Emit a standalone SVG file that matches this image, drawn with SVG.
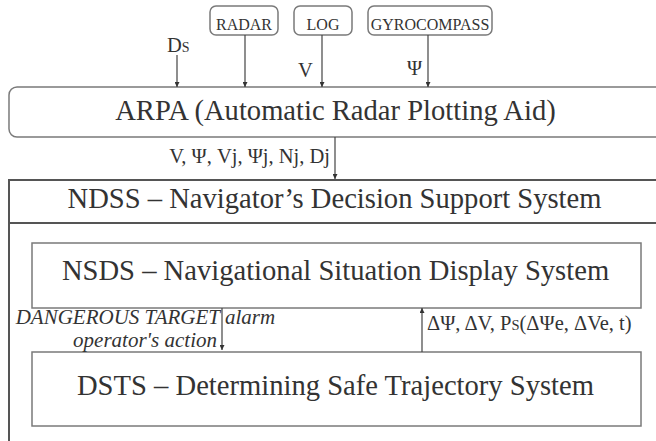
<svg xmlns="http://www.w3.org/2000/svg" width="656" height="441" viewBox="0 0 656 441">
<defs>
<marker id="ah" viewBox="0 0 10 10" refX="10" refY="5" markerWidth="5" markerHeight="5" orient="auto" markerUnits="userSpaceOnUse">
<path d="M0,0 L10,5 L0,10 z" fill="#333"/>
</marker>
<style>
text{font-family:'Liberation Serif','Times New Roman',serif;fill:#333}
.box{fill:#fff;stroke:#7a7a7a;stroke-width:1.5}
.frame{fill:none;stroke:#555;stroke-width:2}
.src{font-size:16px}
.big{font-size:28.6px}
.lab{font-size:20.5px}
.it{font-size:21px;font-style:italic}
.con{stroke:#444;stroke-width:1.2;fill:none;marker-end:url(#ah)}
</style>
</defs>
<rect width="656" height="441" fill="#fff"/>
<g id="radar"><rect class="box" x="210" y="6" width="68" height="29" rx="6"/><text class="src" x="244" y="30" text-anchor="middle">RADAR</text></g>
<g id="log"><rect class="box" x="294" y="6" width="58" height="29" rx="6"/><text class="src" x="323" y="30" text-anchor="middle">LOG</text></g>
<g id="gyrocompass"><rect class="box" x="368" y="6" width="124" height="29" rx="6"/><text class="src" x="430" y="30" text-anchor="middle">GYROCOMPASS</text></g>
<g id="arpa"><rect class="box" x="9" y="87" width="660" height="50" rx="8"/><text class="big" x="335.5" y="120" text-anchor="middle">ARPA (Automatic Radar Plotting Aid)</text></g>
<g id="ndss"><path class="frame" d="M656,180 H9 V441 M9,223 H656"/><text class="big" x="334.5" y="208" text-anchor="middle">NDSS – Navigator’s Decision Support System</text></g>
<g id="nsds"><rect class="box" x="32" y="243" width="609" height="65"/><text class="big" x="335.5" y="280" text-anchor="middle">NSDS – Navigational Situation Display System</text></g>
<g id="dsts"><rect class="box" x="32" y="352" width="609" height="74"/><text class="big" x="335.5" y="395" text-anchor="middle">DSTS – Determining Safe Trajectory System</text></g>
<g id="connectors">
<line class="con" x1="177" y1="55" x2="177" y2="87"/>
<line class="con" x1="245" y1="35" x2="245" y2="87"/>
<line class="con" x1="322" y1="35" x2="322" y2="87"/>
<line class="con" x1="428" y1="35" x2="428" y2="87"/>
<line class="con" x1="335" y1="137" x2="335" y2="179"/>
<line class="con" x1="222" y1="308" x2="222" y2="350"/>
<line class="con" x1="422" y1="352" x2="422" y2="308"/>
</g>
<g id="labels">
<text class="lab" x="167" y="52">D<tspan font-size="14">S</tspan></text>
<text class="lab" x="298" y="77">V</text>
<text class="lab" x="407" y="75">Ψ</text>
<text class="lab" x="330" y="163" text-anchor="end">V, Ψ, Vj, Ψj, Nj, Dj</text>
<text class="it" x="220" y="324" text-anchor="end">DANGEROUS TARGET</text>
<text class="it" x="225" y="324">alarm</text>
<text class="it" x="217" y="347" text-anchor="end">operator's action</text>
<text class="lab" x="427" y="330" font-size="21">ΔΨ, ΔV, P<tspan font-size="14.5">S</tspan>(ΔΨe, ΔVe, t)</text>
</g>
</svg>
